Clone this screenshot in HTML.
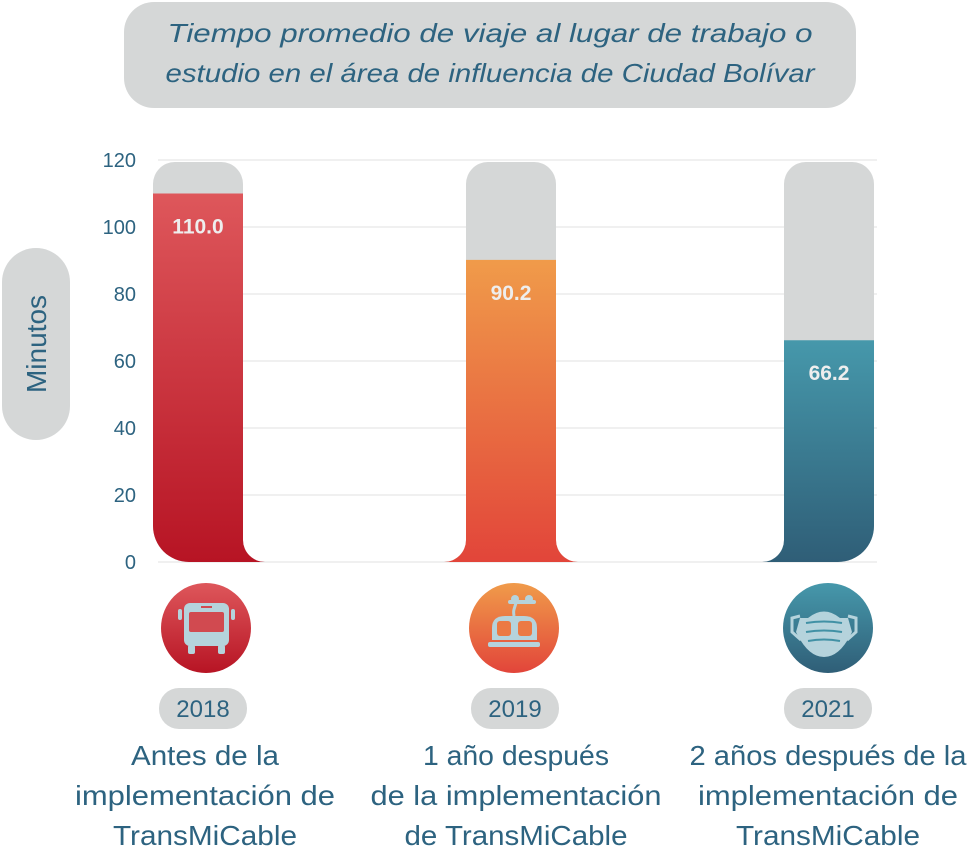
<!DOCTYPE html>
<html><head><meta charset="utf-8"><style>
html,body{margin:0;padding:0;background:#fff;width:976px;height:855px;overflow:hidden}
svg{display:block}
text{font-family:"Liberation Sans",sans-serif}
</style></head><body>
<svg id="chart" width="976" height="855" viewBox="0 0 976 855" xmlns="http://www.w3.org/2000/svg">
<defs>
<linearGradient id="gRed" x1="0" y1="0" x2="0" y2="1"><stop offset="0" stop-color="#de575b"/><stop offset="1" stop-color="#b71424"/></linearGradient>
<linearGradient id="gOrange" x1="0" y1="0" x2="0" y2="1"><stop offset="0" stop-color="#f09b4a"/><stop offset="1" stop-color="#e2453a"/></linearGradient>
<linearGradient id="gTeal" x1="0" y1="0" x2="0" y2="1"><stop offset="0" stop-color="#4698ab"/><stop offset="1" stop-color="#2f5e77"/></linearGradient>
</defs>
<g>
<rect x="124" y="2" width="732" height="106" rx="30" fill="#d5d7d7"/>
<text x="490" y="42" text-anchor="middle" font-size="26" font-style="italic" fill="#2d6380" textLength="645" lengthAdjust="spacingAndGlyphs">Tiempo promedio de viaje al lugar de trabajo o</text>
<text x="490" y="82" text-anchor="middle" font-size="26" font-style="italic" fill="#2d6380" textLength="649" lengthAdjust="spacingAndGlyphs">estudio en el área de influencia de Ciudad Bolívar</text>
</g>
<g>
<rect x="2" y="248" width="68" height="192" rx="34" fill="#d5d7d7"/>
<text transform="translate(46,344) rotate(-90)" text-anchor="middle" font-size="28" fill="#2d6380">Minutos</text>
</g>
<g id="grid"></g>
<g id="yticks"></g>
<g id="bars"></g>
<g id="icons">
<g>
<circle cx="206" cy="628" r="45" fill="url(#gRed)"/>
<rect x="178" y="609" width="4" height="11" rx="2" fill="#b5d3dc"/>
<rect x="231" y="609" width="4" height="11" rx="2" fill="#b5d3dc"/>
<rect x="184" y="603" width="45" height="43" rx="6" fill="#b5d3dc"/>
<rect x="189" y="612" width="35" height="20" rx="2" fill="#d14a50"/>
<rect x="188" y="645" width="7" height="9" rx="2" fill="#b5d3dc"/>
<rect x="218" y="645" width="7" height="9" rx="2" fill="#b5d3dc"/>
<rect x="201" y="606" width="11" height="2" fill="#d14a50"/>
</g>
<g>
<circle cx="514" cy="628" r="45" fill="url(#gOrange)"/>
<rect x="508" y="600" width="28" height="4" rx="2" fill="#b5d3dc"/>
<circle cx="515" cy="599" r="4" fill="#b5d3dc"/><circle cx="529" cy="599" r="4" fill="#b5d3dc"/>
<path d="M516 603 C514 610 513 610 514 616" stroke="#b5d3dc" stroke-width="3" fill="none"/>
<path d="M492 640 V628 Q492 616 505 616 H524 Q537 616 537 628 V640 Z" fill="#b5d3dc"/>
<rect x="497" y="621" width="14" height="15" rx="3" fill="#ec7a44"/>
<rect x="518" y="621" width="14" height="15" rx="3" fill="#ec7a44"/>
<rect x="488" y="642" width="52" height="5" rx="2" fill="#b5d3dc"/>
</g>
<g>
<circle cx="828" cy="628" r="45" fill="url(#gTeal)"/>
<path d="M800 618 L848 618 L852 632 Q840 657 824 657 Q808 657 796 632 Z" fill="#b5d3dc"/>
<path d="M808 618 Q824 605 840 618 Z" fill="#b5d3dc"/>
<path d="M800 616 L792 618 L792 632 L801 640" stroke="#b5d3dc" stroke-width="3" fill="none"/>
<path d="M848 616 L856 618 L856 632 L847 640" stroke="#b5d3dc" stroke-width="3" fill="none"/>
<path d="M806 623 Q824 620 842 623 M806 632 Q824 629 842 632 M808 641 Q824 638 840 641" stroke="#4191a5" stroke-width="2" fill="none"/>
</g>
</g>
<g id="years"></g>
<g id="desc"></g>
</svg>
<script>
const NS='http://www.w3.org/2000/svg';
const categories=['2018','2019','2021'];
const values=[110.0,90.2,66.2];
const valueLabels=['110.0','90.2','66.2'];
const yTicks=[0,20,40,60,80,100,120];
const descriptions=[['Antes de la','implementación de','TransMiCable'],['1 año después','de la implementación','de TransMiCable'],['2 años después de la','implementación de','TransMiCable']];

const Y0=562, YMAX=160, VMAX=120;
function y(v){return Y0-(v/VMAX)*(Y0-YMAX);}
const barX=[153,466,784], barW=90;
const fills=['url(#gRed)','url(#gOrange)','url(#gTeal)'];
const descW=[[148,260,184],[186,291,223],[277,260,184]];
const descCx=[205,516,828];
const rc=22, rv=36;
function mk(tag,attrs,parent){const e=document.createElementNS(NS,tag);for(const k in attrs)e.setAttribute(k,attrs[k]);parent.appendChild(e);return e;}
const grid=document.getElementById('grid'), yt=document.getElementById('yticks');
yTicks.forEach(t=>{
  const l=mk('line',{x1:158,x2:877,y1:y(t),y2:y(t),stroke:'#ececec','stroke-width':1.5},grid);
  
  
  const tx=mk('text',{x:136,y:y(t)+7,'text-anchor':'end','font-size':20,fill:'#2d6380'},yt);
  tx.textContent=t;
  
  
});
function shape(i,top,roundTop){
  const x0=barX[i], x1=x0+barW, n=categories.length;
  let d='';
  if(roundTop) d+=`M${x0},${top+rc} A${rc} ${rc} 0 0 1 ${x0+rc},${top} H${x1-rc} A${rc} ${rc} 0 0 1 ${x1},${top+rc} `;
  else d+=`M${x0},${top} H${x1} `;
  if(i===n-1) d+=`V${Y0-rv} A${rv} ${rv} 0 0 1 ${x1-rv},${Y0} `;
  else d+=`V${Y0-rc} A${rc} ${rc} 0 0 0 ${x1+rc},${Y0} `;
  if(i===0) d+=`H${x0+rv} A${rv} ${rv} 0 0 1 ${x0},${Y0-rv} Z`;
  else d+=`H${x0-rc} A${rc} ${rc} 0 0 0 ${x0},${Y0-rc} Z`;
  return d;
}
const bars=document.getElementById('bars'), years=document.getElementById('years'), desc=document.getElementById('desc');
categories.forEach((c,i)=>{
  const bg=mk('path',{d:shape(i,y(VMAX)+2,true),fill:'#d5d7d7'},bars);
  
  
  const b=mk('path',{d:shape(i,y(values[i]),false),fill:fills[i]},bars);
  
  
  const vl=mk('text',{x:barX[i]+barW/2,y:y(values[i])+40,'text-anchor':'middle','font-size':21,'font-weight':'bold',fill:'#eeeeee'},bars);
  vl.textContent=valueLabels[i];
  
  
  const cx=descCx[i]+ (i===0?-2:(i===1?-1:0));
  const p=mk('rect',{x:cx-44,y:688,width:88,height:41,rx:20,fill:'#d5d7d7'},years);
  
  
  const yl=mk('text',{x:cx,y:717,'text-anchor':'middle','font-size':24,fill:'#2d6380'},years);
  yl.textContent=c;
  
  
  descriptions[i].forEach((line,j)=>{
    const t=mk('text',{x:descCx[i],y:765+j*40,'text-anchor':'middle','font-size':28,fill:'#2d6380',textLength:descW[i][j],lengthAdjust:'spacingAndGlyphs'},desc);
    t.textContent=line;
    
    
  });
});
</script>
</body></html>
